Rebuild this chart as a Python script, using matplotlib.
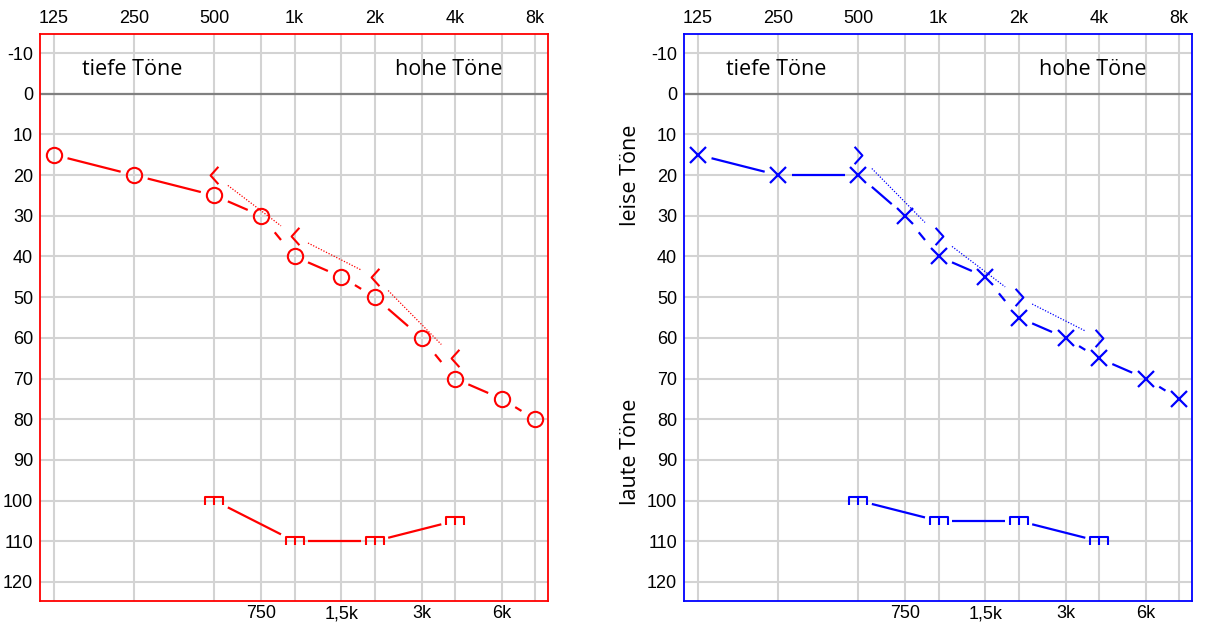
import numpy as np
import matplotlib
matplotlib.use('Agg')
import matplotlib.pyplot as plt
from matplotlib.path import Path
import matplotlib.transforms as mtransforms

# ---------------- data ----------------
freq_top = [125, 250, 500, 1000, 2000, 4000, 8000]
freq_top_labels = ['125', '250', '500', '1k', '2k', '4k', '8k']
freq_bottom = [750, 1500, 3000, 6000]
freq_bottom_labels = ['750', '1,5k', '3k', '6k']
db_ticks = list(range(-10, 121, 10))

air_freq = [125, 250, 500, 750, 1000, 1500, 2000, 3000, 4000, 6000, 8000]
left_air = [15, 20, 25, 30, 40, 45, 50, 60, 70, 75, 80]
right_air = [15, 20, 20, 30, 40, 45, 55, 60, 65, 70, 75]

bone_freq = [500, 1000, 2000, 4000]
left_bone = [20, 35, 45, 65]
right_bone = [15, 35, 50, 60]

ucl_freq = [500, 1000, 2000, 4000]
left_ucl = [100, 110, 110, 105]
right_ucl = [100, 105, 105, 110]

# ---------------- style ----------------
DPI = 100
W, H = 1218, 635
fig = plt.figure(figsize=(W / DPI, H / DPI), dpi=DPI)

TEXT_FONT = ['Open Sans', 'DejaVu Sans']
TICK_FONT = ['Liberation Sans', 'DejaVu Sans']

chev_left = Path([(0.45, 1), (-0.45, 0), (0.45, -1)],
                 [Path.MOVETO, Path.LINETO, Path.LINETO])
chev_right = Path([(-0.45, 1), (0.45, 0), (-0.45, -1)],
                  [Path.MOVETO, Path.LINETO, Path.LINETO])
ucl_marker = Path([(-1, -0.45), (-1, 0.45), (1, 0.45), (1, -0.45),
                   (0, 0.45), (0, -0.45)],
                  [Path.MOVETO, Path.LINETO, Path.LINETO, Path.LINETO,
                   Path.MOVETO, Path.LINETO])


def px_axes(x0, y0, x1, y1):
    return fig.add_axes([x0 / W, (H - y1) / H, (x1 - x0) / W, (y1 - y0) / H])


def seg_plot(ax, xs, ys, gap_px, **kw):
    """Connect consecutive points, leaving a horizontal gap (px) near each."""
    tr = ax.transData
    inv = tr.inverted()
    for i in range(len(xs) - 1):
        p0 = tr.transform((xs[i], ys[i]))
        p1 = tr.transform((xs[i + 1], ys[i + 1]))
        d = p1 - p0
        f = gap_px / abs(d[0])
        q0 = p0 + d * f
        q1 = p1 - d * f
        pts = inv.transform([q0, q1])
        ax.plot(pts[:, 0], pts[:, 1], **kw)


def setup(ax, color):
    ax.set_xscale('log', base=2)
    ax.set_xlim(125 * 2 ** -0.175, 8000 * 2 ** 0.1625)
    ax.set_ylim(124.7, -14.7)
    ax.set_xticks(freq_top)
    ax.set_xticklabels(freq_top_labels)
    ax.set_xticks(freq_bottom, minor=True)
    ax.set_xticklabels(freq_bottom_labels, minor=True)
    ax.xaxis.set_minor_formatter(matplotlib.ticker.FixedFormatter(freq_bottom_labels))
    ax.tick_params(axis='x', which='major', top=False, bottom=False,
                   labeltop=True, labelbottom=False, length=0, pad=5,
                   labelsize=13)
    ax.tick_params(axis='x', which='minor', top=False, bottom=False,
                   labeltop=False, labelbottom=True, length=0, pad=3,
                   labelsize=13)
    ax.set_yticks(db_ticks)
    ax.set_yticklabels([str(v) for v in db_ticks])
    ax.tick_params(axis='y', length=0, pad=5, labelsize=13)
    for lab in ax.get_xticklabels(which='both') + ax.get_yticklabels():
        lab.set_family(TICK_FONT)
    ax.grid(True, which='both', color='#d3d3d3', lw=1.5)
    ax.set_axisbelow(True)
    ax.axhline(0, color='#808080', lw=1.6, zorder=1.5)
    for s in ax.spines.values():
        s.set_color(color)
        s.set_linewidth(1.3)
    ax.text(2 ** 0.35 * 125, -6.0, 'tiefe Töne', fontsize=15.5,
            family=TEXT_FONT, va='center', ha='left')
    ax.text(2 ** 4.26 * 125, -6.0, 'hohe Töne', fontsize=15.5,
            family=TEXT_FONT, va='center', ha='left')


RED = '#ff0000'
BLUE = '#0000ff'

axL = px_axes(40, 34, 548, 601)
axR = px_axes(684, 34, 1192, 601)
setup(axL, RED)
setup(axR, BLUE)

GAP = 13.5
for ax, col, air, bone, ucl, amark, bmark in [
        (axL, RED, left_air, left_bone, left_ucl, 'o', chev_left),
        (axR, BLUE, right_air, right_bone, right_ucl, 'x', chev_right)]:
    # air conduction
    seg_plot(ax, air_freq, air, GAP, color=col, lw=1.6, solid_capstyle='butt')
    if amark == 'o':
        ax.plot(air_freq, air, ls='none', marker='o', ms=11, mfc='none',
                mec=col, mew=1.5, zorder=4)
    else:
        ax.plot(air_freq, air, ls='none', marker='x', ms=12, mec=col,
                mew=1.6, zorder=4)
    # bone conduction
    seg_plot(ax, bone_freq, bone, GAP, color=col, lw=0.9,
             ls=(0, (1, 1.3)))
    ax.plot(bone_freq, bone, ls='none', marker=bmark, ms=12.5, mfc='none',
            mec=col, mew=1.5, zorder=4)
    # uncomfortable level
    seg_plot(ax, ucl_freq, ucl, GAP, color=col, lw=1.6, solid_capstyle='butt')
    ax.plot(ucl_freq, ucl, ls='none', marker=ucl_marker, ms=13, mfc='none',
            mec=col, mew=1.5, zorder=4)

# side labels on the right panel
trans = mtransforms.blended_transform_factory(axR.transAxes, axR.transData)
axR.text(-0.106, 20, 'leise Töne', rotation=90, fontsize=15.5,
         family=TEXT_FONT, ha='center', va='center', transform=trans)
axR.text(-0.106, 88, 'laute Töne', rotation=90, fontsize=15.5,
         family=TEXT_FONT, ha='center', va='center', transform=trans)

fig.savefig('out.png', dpi=DPI)
